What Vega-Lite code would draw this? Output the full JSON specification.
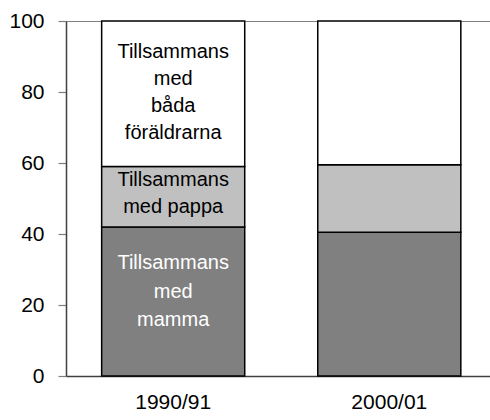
{
  "$schema": "https://vega.github.io/schema/vega-lite/v6.json",
  "autosize": {"type": "none"},
  "width": 424,
  "height": 355,
  "padding": {"left": 66, "top": 21, "right": 0, "bottom": 44},
  "background": "white",
  "config": {
    "font": "Liberation Sans",
    "view": {"stroke": null},
    "text": {"lineBreak": "\n"}
  },
  "data": {
    "values": [
      {"year": "1990/91", "cat": "mamma", "ord": 1, "value": 42, "label": "Tillsammans\nmed\nmamma"},
      {"year": "1990/91", "cat": "pappa", "ord": 2, "value": 17, "label": "Tillsammans\nmed pappa"},
      {"year": "1990/91", "cat": "båda", "ord": 3, "value": 41, "label": "Tillsammans\nmed\nbåda\nföräldrarna"},
      {"year": "2000/01", "cat": "mamma", "ord": 1, "value": 40.5, "label": null},
      {"year": "2000/01", "cat": "pappa", "ord": 2, "value": 19, "label": null},
      {"year": "2000/01", "cat": "båda", "ord": 3, "value": 40.5, "label": null}
    ]
  },
  "transform": [
    {"stack": "value", "groupby": ["year"], "sort": [{"field": "ord", "order": "ascending"}], "as": ["y0", "y1"]},
    {"calculate": "(datum.y0 + datum.y1) / 2", "as": "mid"}
  ],
  "layer": [
    {
      "mark": {"type": "bar", "stroke": "#000000", "strokeWidth": 1.5},
      "encoding": {
        "x": {
          "field": "year", "type": "nominal",
          "scale": {"paddingInner": 0.338, "paddingOuter": 0.15, "align": 0.55},
          "axis": {"title": null, "labelAngle": 0, "labelFontSize": 21, "labelColor": "#000000", "ticks": false, "labelPadding": 15, "domainColor": "#404040", "domainWidth": 1.5}
        },
        "y": {
          "field": "y1", "type": "quantitative",
          "scale": {"domain": [0, 100], "nice": false},
          "axis": {
            "title": null, "values": [0, 20, 40, 60, 80, 100],
            "labelFontSize": 21, "labelColor": "#000000", "labelPadding": 14,
            "tickSize": 8, "tickColor": "#808080", "tickWidth": 1.2,
            "domainColor": "#404040", "domainWidth": 1.5,
            "grid": true,
            "gridColor": "#808080", "gridWidth": 1.2,
            "gridOpacity": {"condition": {"test": "datum.value === 100", "value": 1}, "value": 0}
          }
        },
        "y2": {"field": "y0"},
        "color": {
          "field": "cat", "type": "nominal",
          "scale": {"domain": ["mamma", "pappa", "båda"], "range": ["#808080", "#c0c0c0", "#ffffff"]},
          "legend": null
        }
      }
    },
    {
      "transform": [{"filter": "datum.label != null && datum.cat === 'båda'"}],
      "mark": {"type": "text", "fontSize": 20, "lineHeight": 27, "baseline": "middle", "align": "center", "dy": -42, "color": "#000000"},
      "encoding": {
        "x": {"field": "year", "type": "nominal"},
        "y": {"field": "mid", "type": "quantitative"},
        "text": {"field": "label"}
      }
    },
    {
      "transform": [{"filter": "datum.label != null && datum.cat === 'pappa'"}],
      "mark": {"type": "text", "fontSize": 20, "lineHeight": 27, "baseline": "middle", "align": "center", "dy": -17, "color": "#000000"},
      "encoding": {
        "x": {"field": "year", "type": "nominal"},
        "y": {"field": "mid", "type": "quantitative"},
        "text": {"field": "label"}
      }
    },
    {
      "transform": [{"filter": "datum.label != null && datum.cat === 'mamma'"}],
      "mark": {"type": "text", "fontSize": 20, "lineHeight": 28.5, "baseline": "middle", "align": "center", "dy": -38, "color": "#ffffff"},
      "encoding": {
        "x": {"field": "year", "type": "nominal"},
        "y": {"field": "mid", "type": "quantitative"},
        "text": {"field": "label"}
      }
    }
  ]
}
